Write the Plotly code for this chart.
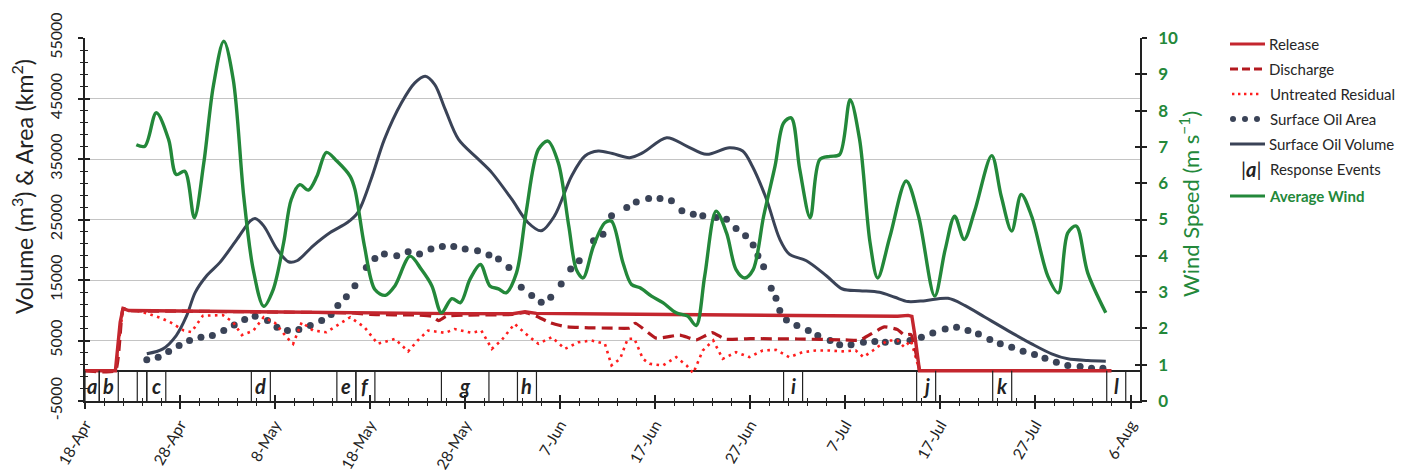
import datetime as dt
import plotly.graph_objects as go

# ---------------------------------------------------------------- data
START = dt.datetime(2010, 4, 18)
END = dt.datetime(2010, 8, 7)

# Oil released from the well (m^3), days after 18-Apr
release_day = [0, 3.2, 3.7, 4.0, 4.6, 10, 20, 28, 36, 40, 45, 46.3, 47.5, 55, 65, 75,
               83, 85.5, 86.6, 87.0, 87.3, 87.8, 100, 108]
release_vol = [0, 0, 8000, 10300, 9950, 9850, 9700, 9550, 9480, 9450, 9430, 9750, 9480, 9390,
               9250, 9120, 9000, 9000, 9150, 9000, 6000, 0, 0, 0]

# Oil discharged to the sea after recovery (m^3)
discharge_day = [0, 3.2, 4.0, 4.6, 10, 20, 28, 30, 35, 36.5, 37.2, 38, 40, 45, 46.3, 47.5,
                 49, 50.5, 53, 55.5, 57.3, 57.9, 60.1, 62.6, 64.3, 66.0, 67.4, 70, 75, 80,
                 81.5, 84.1, 85.5, 86.2, 86.9, 87.8]
discharge_vol = [0, 0, 10300, 9950, 9850, 9700, 9550, 9300, 9200, 9000, 8300, 9000, 9200, 9300,
                 9650, 9000, 7900, 7300, 7100, 7050, 7050, 7850, 5400, 5900, 5100, 6300, 5200,
                 5300, 5250, 5100, 5050, 7250, 6800, 5900, 6000, 0]

# Untreated residual oil (m^3)
residual_day = [3.2, 4.0, 4.6, 5.5, 6.7, 8.0, 9.0, 10.4, 11.2, 12.4, 14.5, 15.6, 16.5, 17.7,
                18.8, 20.0, 21.2, 21.9, 22.8, 24.0, 25.4, 26.5, 27.9, 29.4, 30.8, 32.6, 34.0,
                35.0, 36.1, 37.9, 38.9, 40.7, 41.7, 42.8, 43.8, 45.2, 46.6, 47.7, 49.1, 50.5,
                51.9, 53.3, 54.7, 55.4, 56.3, 57.1, 57.8, 58.7, 59.4, 60.8, 62.2, 63.3, 64.0,
                65.0, 66.1, 67.1, 68.5, 69.9, 71.3, 72.7, 74.1, 75.5, 76.9, 78.3, 79.7, 81.1,
                81.9, 82.9, 83.6, 84.5, 85.5, 86.2, 86.9, 87.8]
residual_vol = [0, 10300, 9950, 9900, 9400, 8700, 8000, 6650, 6400, 9100, 9200, 8000, 5900, 6600,
                8850, 7900, 5550, 4450, 8000, 6650, 6370, 7470, 8850, 7200, 4450, 5270, 3200,
                5000, 6650, 6260, 6900, 6260, 6650, 3620, 5000, 7750, 5800, 4450, 5550, 3620,
                4700, 5000, 4450, 900, 1970, 5270, 5300, 1970, 1150, 870, 2250, 870, -400,
                3350, 5000, 1970, 3070, 2250, 3350, 3450, 2250, 3070, 3350, 3350, 3200, 3350,
                2250, 3350, 4170, 5000, 5000, 3900, 5000, 0]

# Surface oil area (km^2)
area_day = [6.5, 7.7, 8.8, 9.9, 11.0, 12.2, 13.4, 14.6, 15.7, 16.8, 17.9, 19.2, 20.2, 21.3,
            22.5, 23.7, 24.9, 25.9, 26.6, 27.5, 28.4, 29.6, 30.5, 31.5, 32.8, 34.0, 35.2, 36.4,
            37.6, 38.8, 40.0, 41.3, 42.5, 43.5, 44.6, 45.9, 47.0, 48.0, 49.0, 50.1, 51.1, 52.0,
            53.5, 54.5, 55.4, 57.0, 58.0, 59.3, 60.5, 61.7, 62.8, 64.0, 65.0, 66.4, 67.5, 68.5,
            69.5, 70.3, 70.8, 71.4, 72.2, 72.7, 73.1, 73.8, 74.9, 76.1, 77.1, 78.4, 79.4, 80.6,
            81.9, 83.1, 84.2, 85.5, 86.8, 88.0, 89.2, 90.5, 91.7, 92.9, 94.0, 95.2, 96.3, 97.5,
            98.7, 99.9, 101.0, 102.2, 103.4, 104.7, 105.9, 107.1]
area_km2 = [1810, 2250, 3180, 4170, 5000, 5540, 5820, 6640, 7580, 8460, 9010, 8290, 7190, 6640,
            6810, 7470, 8290, 9280, 10770, 12250, 14060, 17085, 18570, 19280, 19010, 19670,
            19280, 20110, 20550, 20550, 20110, 19830, 19120, 18460, 17085, 13790, 12420, 11315,
            12140, 14340, 16810, 18180, 21480, 22580, 25600, 26980, 27910, 28460, 28460, 28080,
            26430, 25880, 25600, 25330, 25050, 23510, 22300, 20770, 19010, 17190, 13620, 11970,
            9940, 8400, 7470, 6640, 5820, 5000, 4280, 4280, 4720, 4830, 4720, 4830, 5000, 5540,
            6260, 6920, 7190, 6640, 6090, 5160, 4450, 3900, 3240, 2690, 2080, 1420, 870, 710,
            430, 430]

# Surface oil volume (m^3)
volume_day = [6.5, 8.2, 9.6, 10.7, 11.6, 12.8, 14.2, 16.0, 17.4, 17.9, 18.8, 20.2, 21.4, 22.3,
              24.0, 25.8, 27.6, 28.7, 30.1, 31.5, 33.3, 34.7, 35.8, 36.8, 37.9, 39.3, 41.4,
              42.8, 44.9, 46.6, 48.0, 49.4, 51.2, 52.6, 54.0, 55.5, 57.3, 58.7, 61.2, 63.3,
              65.4, 67.8, 69.2, 70.2, 71.7, 73.1, 74.1, 75.9, 78.0, 79.7, 81.5, 83.6, 85.2,
              86.6, 88.4, 90.8, 92.6, 94.7, 97.1, 99.6, 101.7, 103.4, 105.5, 107.4]
volume_m3 = [2800, 3620, 5820, 9100, 12960, 15710, 17910, 21750, 24780, 25160, 23950, 20100,
             18020, 18180, 20650, 22850, 24500, 26150, 31650, 38240, 44285, 47580, 48680, 47300,
             43190, 38240, 34940, 32750, 28350, 24500, 23130, 25600, 32200, 35500, 36320, 35900,
             35220, 36040, 38520, 37140, 35770, 36870, 36320, 33840, 28350, 21750, 19280, 18180,
             15710, 13510, 13240, 12960, 12140, 11430, 11590, 11970, 10765, 8840, 6640, 4447,
             2800, 1970, 1700, 1590]

# Average wind speed (m/s)
wind_day = [5.4, 6.3, 7.5, 8.8, 9.6, 10.5, 11.5, 12.5, 13.5, 14.6, 15.6, 16.7, 17.7, 18.8, 19.8,
            20.9, 21.7, 22.6, 23.5, 24.4, 25.4, 26.5, 27.9, 28.4, 29.4, 30.5, 31.6, 32.6, 34.2,
            35.4, 36.5, 37.5, 38.6, 39.5, 40.5, 41.6, 42.6, 43.5, 44.3, 45.4, 46.4, 47.7, 48.7,
            49.8, 50.9, 51.7, 52.4, 53.5, 54.7, 55.4, 56.6, 57.5, 58.4, 59.6, 60.8, 62.2, 63.4,
            64.3, 65.2, 66.4, 67.5, 68.5, 69.4, 70.3, 71.4, 72.6, 73.5, 74.3, 75.2, 76.3, 77.3,
            78.4, 79.4, 80.5, 81.5, 82.6, 83.4, 84.7, 86.4, 87.7, 89.4, 90.5, 91.5, 92.5, 93.6,
            95.4, 96.4, 97.5, 98.5, 99.6, 101.3, 102.4, 103.4, 104.3, 105.5, 107.4]
wind_ms = [7.06, 7.02, 7.94, 7.20, 6.24, 6.33, 5.05, 6.56, 8.67, 9.91, 8.85, 5.64, 3.62, 2.61,
           3.07, 4.36, 5.55, 5.96, 5.81, 6.19, 6.85, 6.61, 6.19, 5.83, 4.27, 3.07, 2.91, 3.17,
           3.99, 3.62, 3.17, 2.43, 2.82, 2.71, 3.35, 3.76, 3.17, 3.09, 2.98, 3.53, 5.18, 6.93,
           7.16, 6.56, 4.82, 3.62, 3.39, 4.27, 4.91, 4.95, 3.81, 3.21, 3.12, 2.89, 2.71, 2.43,
           2.34, 2.08, 3.44, 5.23, 4.63, 3.62, 3.39, 3.62, 5.09, 6.47, 7.66, 7.80, 6.38, 5.05,
           6.65, 6.74, 6.79, 8.30, 7.20, 4.36, 3.39, 4.54, 6.06, 5.09, 2.89, 4.17, 5.09, 4.45,
           5.23, 6.76, 5.64, 4.68, 5.69, 5.09, 3.44, 2.98, 4.63, 4.82, 3.53, 2.43]

# Response events: label and the span (days after 18-Apr) of its box
event_label = ["a", "b", "", "c", "d", "e", "f", "g", "h", "i", "j", "k", "l"]
event_start = [0, 1.5, 5.5, 6.5, 17.5, 26.5, 28.5, 37.5, 45.5, 73.5, 87.5, 95.5, 107.5]
event_end = [1.5, 3.5, 6.5, 8.5, 19.5, 28.5, 30.5, 42.5, 47.5, 75.5, 89.5, 97.5, 109.5]

# Axis tick values
volume_ticks = [-5000, 5000, 15000, 25000, 35000, 45000, 55000]
wind_ticks = [0, 1, 2, 3, 4, 5, 6, 7, 8, 9, 10]

# ---------------------------------------------------------------- styling
FONT = "Lato"
INK = "#222222"
RED_RELEASE = "#c4262e"
RED_DISCHARGE = "#b3191f"
RED_RESIDUAL = "#ff1e1e"
NAVY = "#3a4357"
GREEN = "#23883a"
GRID = "#c4c4c4"

W, H = 1404, 473
PL, PR, PT, PB = 85, 1140, 38, 401          # plot box in pixels
DAY_MS = 86400000


def dates(days):
    return [START + dt.timedelta(days=d) for d in days]


def px(xp):
    return (xp - PL) / (PR - PL)


def py(yp):
    return (PB - yp) / (PB - PT)


fig = go.Figure()

fig.add_trace(go.Scatter(x=dates(area_day), y=area_km2, mode="markers", name="Surface Oil Area",
                         marker=dict(size=7, color=NAVY), showlegend=False))
fig.add_trace(go.Scatter(x=dates(volume_day), y=volume_m3, mode="lines", name="Surface Oil Volume",
                         line=dict(color=NAVY, width=3, shape="spline", smoothing=0.9),
                         showlegend=False))
fig.add_trace(go.Scatter(x=dates(residual_day), y=residual_vol, mode="lines",
                         name="Untreated Residual",
                         line=dict(color=RED_RESIDUAL, width=2.6, dash="2.6px,4.4px"),
                         showlegend=False))
fig.add_trace(go.Scatter(x=dates(discharge_day), y=discharge_vol, mode="lines", name="Discharge",
                         line=dict(color=RED_DISCHARGE, width=3.2, dash="11px,6px",
                                   shape="spline", smoothing=0.4),
                         showlegend=False))
fig.add_trace(go.Scatter(x=dates(release_day), y=release_vol, mode="lines", name="Release",
                         line=dict(color=RED_RELEASE, width=3.4), showlegend=False))
fig.add_trace(go.Scatter(x=dates(wind_day), y=wind_ms, mode="lines", name="Average Wind",
                         yaxis="y2", line=dict(color=GREEN, width=3.4, shape="spline",
                                               smoothing=0.9),
                         showlegend=False))
# carriers for the inward half of the crossing tick marks
fig.add_trace(go.Scatter(x=[START], y=[None], xaxis="x2", yaxis="y3", showlegend=False,
                         hoverinfo="skip"))
fig.add_trace(go.Scatter(x=[START], y=[None], yaxis="y4", showlegend=False, hoverinfo="skip"))

# ---------------------------------------------------------------- response events row
shapes = []
annotations = []
for lab, s, e in zip(event_label, event_start, event_end):
    for d in (s, e):
        shapes.append(dict(type="line", xref="x", yref="y",
                           x0=START + dt.timedelta(days=d), x1=START + dt.timedelta(days=d),
                           y0=-5000, y1=0, line=dict(color=INK, width=1.2), layer="above"))
    if lab:
        annotations.append(dict(x=START + dt.timedelta(days=(s + e) / 2), y=-2500,
                                xref="x", yref="y", text=f"<b><i>{lab}</i></b>",
                                xanchor="center", yanchor="middle",
                                showarrow=False, font=dict(family=FONT, size=20, color=INK)))

# ---------------------------------------------------------------- legend
LX0, LX1, TX = 1230, 1265, 1267
rows = {"Release": 44, "Discharge": 69, "Untreated": 94, "Area": 119, "Volume": 144,
        "Events": 169, "Wind": 196}


def leg_line(yp, color, width, dash="solid"):
    shapes.append(dict(type="line", xref="paper", yref="paper", x0=px(LX0), x1=px(LX1),
                       y0=py(yp), y1=py(yp), line=dict(color=color, width=width, dash=dash)))


def leg_text(yp, text, x=TX, color="#262626"):
    annotations.append(dict(x=px(x), y=py(yp), xref="paper", yref="paper", text=text,
                            xanchor="left", yanchor="middle", showarrow=False,
                            font=dict(family=FONT, size=15, color=color)))


leg_line(rows["Release"], RED_RELEASE, 3)
leg_text(rows["Release"], "Release")
leg_line(rows["Discharge"], RED_DISCHARGE, 3, "8px,4px")
leg_text(rows["Discharge"], "Discharge")
shapes.append(dict(type="line", xref="paper", yref="paper", x0=px(1232), x1=px(1262),
                   y0=py(rows["Untreated"]), y1=py(rows["Untreated"]),
                   line=dict(color=RED_RESIDUAL, width=2.4, dash="2.4px,3.6px")))
leg_text(rows["Untreated"], "Untreated Residual", x=1268)
for cx in (1233, 1245, 1257):
    shapes.append(dict(type="circle", xref="paper", yref="paper", xsizemode="pixel",
                       ysizemode="pixel", xanchor=px(cx), yanchor=py(rows["Area"]),
                       x0=-3, x1=3, y0=-3, y1=3, fillcolor=NAVY, line=dict(width=0)))
leg_text(rows["Area"], "Surface Oil Area", x=1268)
leg_line(rows["Volume"], NAVY, 3)
leg_text(rows["Volume"], "Surface Oil Volume")
annotations.append(dict(x=px(1251), y=py(rows["Events"]), xref="paper", yref="paper",
                        text="|<b><i>a</i></b>|", showarrow=False, xanchor="center",
                        yanchor="middle", font=dict(family=FONT, size=20, color=INK)))
leg_text(rows["Events"], "Response Events", x=1268)
leg_line(rows["Wind"], GREEN, 3)
leg_text(rows["Wind"], "<b>Average Wind</b>", color=GREEN)

# ---------------------------------------------------------------- axis titles
annotations.append(dict(x=px(22), y=py(187), xref="paper", yref="paper",
                        text="Volume (m<sup>3</sup>) & Area (km<sup>2</sup>)", textangle=-90,
                        xanchor="center", yanchor="middle",
                        showarrow=False, font=dict(family=FONT, size=23, color=INK)))
annotations.append(dict(x=px(1190), y=py(204), xref="paper", yref="paper",
                        text="Wind Speed (m s<sup>\u22121</sup>)", textangle=-90,
                        xanchor="center", yanchor="middle",
                        showarrow=False, font=dict(family=FONT, size=22, color=GREEN)))

# ---------------------------------------------------------------- axes
xr = [START, END]
common_x = dict(type="date", range=xr, tick0=START, dtick=10 * DAY_MS, automargin=False)
fig.update_layout(
    width=W, height=H,
    margin=dict(l=PL, r=W - PR, t=PT, b=H - PB, pad=0),
    paper_bgcolor="white", plot_bgcolor="white",
    font=dict(family=FONT, color=INK),
    showlegend=False,
    xaxis=dict(**common_x, tickformat="%-d-%b", tickangle=-60,
               tickfont=dict(size=15.5, color=INK), ticks="outside", ticklen=6, tickwidth=1.5,
               tickcolor=INK, showline=True, linecolor=INK, linewidth=1.5, showgrid=False,
               zeroline=False, anchor="y", ticklabelstandoff=1,
               minor=dict(tick0=START, dtick=2 * DAY_MS, ticks="outside", ticklen=3,
                          tickwidth=1, tickcolor=INK, showgrid=False)),
    xaxis2=dict(**common_x, overlaying="x", side="bottom", anchor="y", ticks="inside",
                ticklen=6, tickwidth=1.5, tickcolor=INK, showticklabels=False,
                showline=False, showgrid=False, zeroline=False,
                minor=dict(tick0=START, dtick=2 * DAY_MS, ticks="inside", ticklen=3,
                           tickwidth=1, tickcolor=INK, showgrid=False)),
    yaxis=dict(range=[-5000, 55000], tickmode="array", tickvals=volume_ticks,
               ticktext=[str(v) for v in volume_ticks], tickangle=-90, automargin=False,
               tickfont=dict(size=16, color=INK), ticks="outside", ticklen=5, tickwidth=1.5,
               tickcolor=INK, showline=True, linecolor=INK, linewidth=1.5,
               showgrid=True, gridcolor=GRID, gridwidth=1,
               zeroline=True, zerolinecolor=INK, zerolinewidth=1.5,
               ticklabelstandoff=10,
               minor=dict(tick0=-5000, dtick=2000, ticks="outside", ticklen=3, tickwidth=1,
                          tickcolor=INK, showgrid=False)),
    yaxis3=dict(range=[-5000, 55000], tickmode="array", tickvals=volume_ticks,
                overlaying="y", side="left", automargin=False,
                anchor="x", ticks="inside", ticklen=5, tickwidth=1.5, tickcolor=INK,
                showticklabels=False, showline=False, showgrid=False, zeroline=False,
                minor=dict(tick0=-5000, dtick=2000, ticks="inside", ticklen=3, tickwidth=1,
                           tickcolor=INK, showgrid=False)),
    yaxis2=dict(range=[0, 10], tickmode="array", tickvals=wind_ticks, overlaying="y",
                side="right", anchor="x", automargin=False,
                tickfont=dict(size=17, color=GREEN, weight="bold"), ticks="outside",
                ticklen=5, tickwidth=1.5, tickcolor=INK, showline=True, linecolor=INK,
                linewidth=1.5, showgrid=False, zeroline=False, ticklabelstandoff=8),
    yaxis4=dict(range=[0, 10], tickmode="array", tickvals=wind_ticks, overlaying="y",
                side="right", anchor="x", automargin=False,
                ticks="inside", ticklen=5, tickwidth=1.5, tickcolor=INK,
                showticklabels=False, showline=False, showgrid=False, zeroline=False),
    shapes=shapes,
    annotations=annotations,
)

fig.write_html("out.html")
